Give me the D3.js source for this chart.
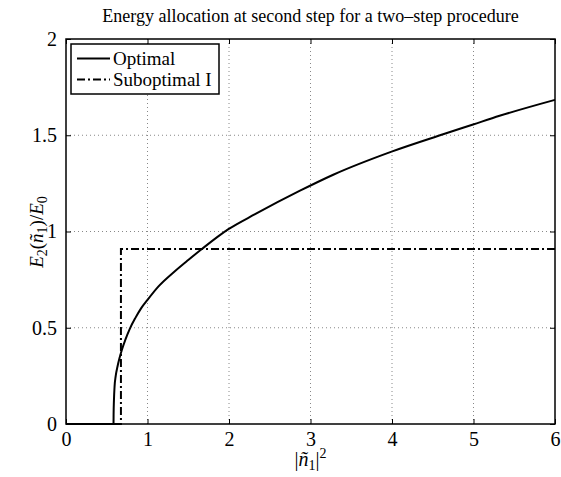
<!DOCTYPE html>
<html>
<head>
<meta charset="utf-8">
<script src="https://cdn.jsdelivr.net/npm/d3@7"></script>
<style>
  body { margin: 0; background: #fff; }
  svg text { font-family: "Liberation Serif", "Times New Roman", serif; fill: #000; }
</style>
</head>
<body>
<svg id="chart" width="561" height="477"></svg>
<script>
// values
var xTicks = [0, 1, 2, 3, 4, 5, 6];
var yTicks = [0, 0.5, 1, 1.5, 2];
var yTickLabels = ["0", "0.5", "1", "1.5", "2"];

var optimalX = [0, 0.583, 0.584, 0.588, 0.596, 0.61, 0.632, 0.655, 0.686, 0.73, 0.78, 0.85, 0.923, 1.0, 1.135, 1.339, 1.5, 1.667, 1.993, 2.32, 2.871, 3.279, 3.995, 4.627, 4.995, 5.32, 6.0];
var optimalY = [0, 0, 0.05, 0.12, 0.195, 0.25, 0.299, 0.34, 0.386, 0.44, 0.492, 0.55, 0.602, 0.645, 0.715, 0.795, 0.852, 0.909, 1.012, 1.09, 1.212, 1.295, 1.415, 1.505, 1.556, 1.601, 1.684];

var subX = [0, 0.674, 0.674, 6.0];
var subY = [0, 0, 0.909, 0.909];

var seriesNames = ["Optimal", "Suboptimal I"];

//////////// LAYOUT ////////////
var svg = d3.select("#chart");
var margin = {left: 66, right: 6, top: 39, bottom: 53};
var width = 561 - margin.left - margin.right,
    height = 477 - margin.top - margin.bottom;

var x = d3.scaleLinear().domain([0, 6]).range([0, width]);
var y = d3.scaleLinear().domain([0, 2]).range([height, 0]);

var g = svg.append("g")
    .attr("transform", "translate(" + margin.left + "," + margin.top + ")");

// dotted grid
g.append("g").selectAll("line")
    .data(xTicks.slice(1, -1))
    .enter().append("line")
    .attr("x1", function (d) { return x(d); })
    .attr("x2", function (d) { return x(d); })
    .attr("y1", 0).attr("y2", height)
    .attr("stroke", "#888").attr("stroke-width", 1)
    .attr("stroke-dasharray", "1,3");

g.append("g").selectAll("line")
    .data(yTicks.slice(1, -1))
    .enter().append("line")
    .attr("y1", function (d) { return y(d); })
    .attr("y2", function (d) { return y(d); })
    .attr("x1", 0).attr("x2", width)
    .attr("stroke", "#888").attr("stroke-width", 1)
    .attr("stroke-dasharray", "1,3");

// axes, ticks pointing inwards on all four sides
function styleAxis(sel) {
    sel.attr("font-family", null).attr("font-size", null);
    sel.select(".domain").remove();
    sel.selectAll("line").attr("stroke", "#000").attr("stroke-width", 1);
    sel.selectAll("text")
        .attr("font-family", "Liberation Serif")
        .style("font-size", "20px");
}

g.append("g")
    .attr("transform", "translate(0," + height + ")")
    .call(d3.axisBottom(x).tickValues(xTicks).tickSizeInner(-5).tickSizeOuter(0).tickPadding(8).tickFormat(d3.format("d")))
    .call(styleAxis);

g.append("g")
    .call(d3.axisTop(x).tickValues(xTicks).tickSizeInner(-5).tickSizeOuter(0).tickFormat(""))
    .call(styleAxis);

g.append("g")
    .call(d3.axisLeft(y).tickValues(yTicks).tickSizeInner(-5).tickSizeOuter(0).tickPadding(9)
        .tickFormat(function (d, i) { return yTickLabels[i]; }))
    .call(styleAxis);

g.append("g")
    .attr("transform", "translate(" + width + ",0)")
    .call(d3.axisRight(y).tickValues(yTicks).tickSizeInner(-5).tickSizeOuter(0).tickFormat(""))
    .call(styleAxis);

//////////// LINES ////////////
var line = d3.line()
    .x(function (d) { return x(d[0]); })
    .y(function (d) { return y(d[1]); });

g.append("path")
    .datum(d3.zip(optimalX, optimalY))
    .attr("fill", "none")
    .attr("stroke", "#000")
    .attr("stroke-width", 2)
    .attr("d", line.curve(d3.curveMonotoneX));

g.append("path")
    .datum(d3.zip(subX, subY))
    .attr("fill", "none")
    .attr("stroke", "#000")
    .attr("stroke-width", 2)
    .attr("stroke-dasharray", "8,3,2,3")
    .attr("d", line.curve(d3.curveLinear));

// box
g.append("rect")
    .attr("width", width).attr("height", height)
    .attr("fill", "none").attr("stroke", "#000").attr("stroke-width", 1.5);

//////////// LEGEND ////////////
var legend = g.append("g").attr("transform", "translate(5,5)");
legend.append("rect")
    .attr("width", 148).attr("height", 50)
    .attr("fill", "#fff").attr("stroke", "#000").attr("stroke-width", 1.5);

var dashes = [null, "8,3,2,3"];
seriesNames.forEach(function (name, i) {
    var ly = 14.5 + i * 21;
    legend.append("line")
        .attr("x1", 6).attr("x2", 39)
        .attr("y1", ly).attr("y2", ly)
        .attr("stroke", "#000").attr("stroke-width", 2)
        .attr("stroke-dasharray", dashes[i]);
    legend.append("text")
        .attr("x", 42).attr("y", ly + 6.5)
        .style("font-size", "19px")
        .text(name);
});

//////////// LABELS ////////////
svg.append("text")
    .attr("x", margin.left + width / 2).attr("y", 22)
    .attr("text-anchor", "middle")
    .style("font-size", "18px")
    .text("Energy allocation at second step for a two\u2013step procedure");

var xl = svg.append("text")
    .attr("x", margin.left + width / 2).attr("y", 466)
    .attr("text-anchor", "middle")
    .style("font-size", "20px");
xl.append("tspan").text("|");
xl.append("tspan").style("font-style", "italic").text("\u00f1");
xl.append("tspan").attr("dy", 4).style("font-size", "14px").text("1");
xl.append("tspan").attr("dy", -4).text("|");
xl.append("tspan").attr("dy", -8).style("font-size", "14px").text("2");

var yl = svg.append("text")
    .attr("transform", "translate(43,232) rotate(-90)")
    .attr("text-anchor", "middle")
    .style("font-size", "19px");
yl.append("tspan").style("font-style", "italic").text("E");
yl.append("tspan").attr("dy", 4).style("font-size", "14px").text("2");
yl.append("tspan").attr("dy", -4).text("(");
yl.append("tspan").style("font-style", "italic").text("\u00f1");
yl.append("tspan").attr("dy", 4).style("font-size", "14px").text("1");
yl.append("tspan").attr("dy", -4).text(")/");
yl.append("tspan").style("font-style", "italic").text("E");
yl.append("tspan").attr("dy", 4).style("font-size", "14px").text("0");
</script>
</body>
</html>
